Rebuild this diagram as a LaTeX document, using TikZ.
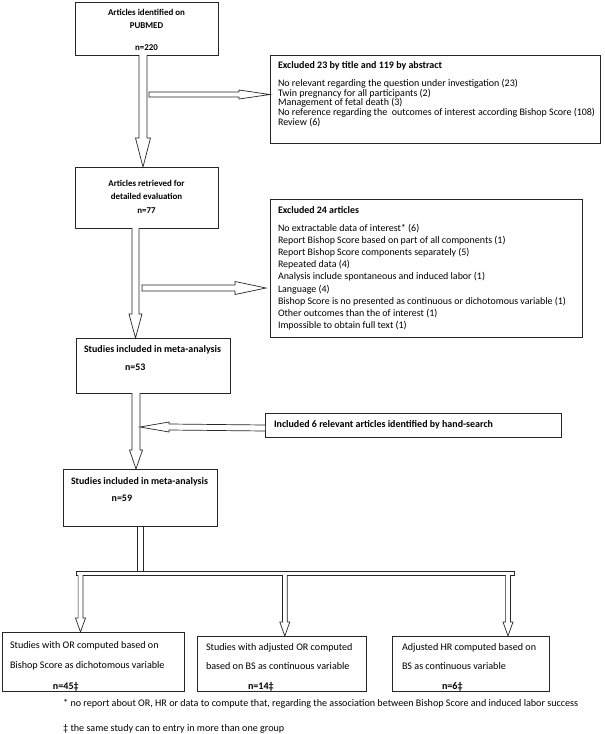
\documentclass[tikz,border=0pt]{standalone}
\usepackage{fontspec}
\setmainfont{Carlito}
\usetikzlibrary{calc}
\tikzset{
  boxs/.style={draw=black!85, line width=0.9pt, inner sep=0pt, outer sep=0pt, anchor=north west, fill=white},
  blockarrow/.style={draw=black!85, line width=0.7pt, fill=white, line join=miter},
  foot/.style={inner sep=0pt, anchor=base west}
}
\newlength\tmpw
\newcommand{\fitsz}[3]{% macro name, target width (pt), sample text
  \settowidth\tmpw{\fontsize{10}{12}\selectfont #3}%
  \pgfmathsetmacro#1{10*#2/\tmpw}}
\newcommand{\bx}[3]{\begin{minipage}[t][#2][t]{#1}\setlength{\parindent}{0pt}\lineskiplimit=-20pt\rightskip=-60pt plus 1fil #3\end{minipage}}
% vertical block arrow: start, tip, shaft half width, head half width, head length
\newcommand{\vblock}[5]{\draw[blockarrow] ($(#1)+(-#3,0)$) -- ($(#2)+(-#3,-#5)$) -- ($(#2)+(-#4,-#5)$) -- (#2) -- ($(#2)+(#4,-#5)$) -- ($(#2)+(#3,-#5)$) -- ($(#1)+(#3,0)$);}
% right-pointing, closed start
\newcommand{\hblockR}[5]{\draw[blockarrow] ($(#1)+(0,-#3)$) -- ($(#2)+(-#5,-#3)$) -- ($(#2)+(-#5,-#4)$) -- (#2) -- ($(#2)+(-#5,#4)$) -- ($(#2)+(-#5,#3)$) -- ($(#1)+(0,#3)$) -- cycle;}
% left-pointing, open start
\newcommand{\hblockL}[5]{\draw[blockarrow] ($(#1)+(0,-#3)$) -- ($(#2)+(#5,-#3)$) -- ($(#2)+(#5,-#4)$) -- (#2) -- ($(#2)+(#5,#4)$) -- ($(#2)+(#5,#3)$) -- ($(#1)+(0,#3)$);}
\begin{document}
\fitsz{\szA}{77}{\bfseries Articles identified on}%
\fitsz{\szCh}{164}{\bfseries Excluded 23 by title and 119 by abstract}%
\fitsz{\szC}{317}{No reference regarding the\ \ outcomes of interest according Bishop Score (108)}%
\fitsz{\szEh}{81}{\bfseries Excluded 24 articles}%
\fitsz{\szE}{288}{Bishop Score is no presented as continuous or dichotomous variable (1)}%
\fitsz{\szD}{137}{\bfseries Studies included in meta-analysis}%
\fitsz{\szG}{219}{\bfseries Included 6 relevant articles identified by hand-search}%
\fitsz{\szO}{148.6}{Studies with OR computed based on}%
\fitsz{\szN}{515}{* no report about OR, HR or data to compute that, regarding the association between Bishop Score and induced labor success}%
\begin{tikzpicture}[x=1pt,y=-1pt]
\useasboundingbox (0,0) rectangle (605,734);
\fill[white] (0,0) rectangle (605,734);

% boxes
\node[boxs] (A) at (75,2) {\bx{143pt}{53pt}{\fontsize{\szA}{13}\selectfont\bfseries\centering\rule{0pt}{13pt}Articles identified on\\PUBMED\\[9pt]n=220\par}};

\node[boxs] (C) at (270,55) {\bx{330pt}{88pt}{\fontsize{\szC}{9.7}\selectfont\leftskip=8pt\rule{0pt}{13.5pt}{\fontsize{\szCh}{9.7}\selectfont\bfseries Excluded 23 by title and 119 by abstract}\\[8.3pt]No relevant regarding the question under investigation (23)\\Twin pregnancy for all participants (2)\\Management of fetal death (3)\\No reference regarding the\ \ outcomes of interest according Bishop Score (108)\\Review (6)\par}};

\node[boxs] (B) at (75,167) {\bx{143pt}{61pt}{\fontsize{\szA}{13}\selectfont\bfseries\centering\rule{0pt}{19pt}Articles retrieved for\\detailed evaluation\\[1pt]n=77\par}};

\node[boxs] (E) at (270,199) {\bx{312pt}{138pt}{\fontsize{\szE}{12.1}\selectfont\leftskip=8pt\rule{0pt}{14.3pt}{\fontsize{\szEh}{12.1}\selectfont\bfseries Excluded 24 articles}\\[6.1pt]No extractable data of interest* (6)\\Report Bishop Score based on part of all components (1)\\Report Bishop Score components separately (5)\\Repeated data (4)\\Analysis include spontaneous and induced labor (1)\\Language (4)\\Bishop Score is no presented as continuous or dichotomous variable (1)\\Other outcomes than the of interest (1)\\Impossible to obtain full text (1)\par}};

\node[boxs] (D) at (76,338) {\bx{154pt}{55pt}{\fontsize{\szD}{18}\selectfont\bfseries\leftskip=8pt\rule{0pt}{14.3pt}Studies included in meta-analysis\\\hspace*{41pt}n=53\par}};

\node[boxs] (G) at (265,413) {\bx{296pt}{24pt}{\fontsize{\szG}{12}\selectfont\bfseries\leftskip=9pt\rule{0pt}{14pt}Included 6 relevant articles identified by hand-search\par}};

\node[boxs] (F) at (63,469) {\bx{154pt}{57pt}{\fontsize{\szD}{17}\selectfont\bfseries\leftskip=8pt\rule{0pt}{15.3pt}Studies included in meta-analysis\\\hspace*{40.7pt}n=59\par}};

\node[boxs, minimum width=438pt, minimum height=4pt, line width=0.7pt] (bar) at (76,571) {};

\node[boxs] (O1) at (2,632) {\bx{182pt}{59pt}{\fontsize{\szO}{20}\selectfont\leftskip=8pt\rule{0pt}{16pt}Studies with OR computed based on\\Bishop Score as dichotomous variable\\[1pt]\hspace*{43pt}\textbf{n=45‡}\par}};

\node[boxs] (O2) at (197,636) {\bx{169pt}{55pt}{\fontsize{\szO}{19}\selectfont\leftskip=9pt\rule{0pt}{14pt}Studies with adjusted OR computed\\based on BS as continuous variable\\[1pt]\hspace*{42pt}\textbf{n=14‡}\par}};

\node[boxs] (O3) at (392,636) {\bx{157pt}{55pt}{\fontsize{\szO}{19}\selectfont\leftskip=10pt\rule{0pt}{14pt}Adjusted HR computed based on\\BS as continuous variable\\[1pt]\hspace*{40pt}\textbf{n=6‡}\par}};

\node[foot, font=\fontsize{\szN}{12}\selectfont] (n1) at (63,706) {* no report about OR, HR or data to compute that, regarding the association between Bishop Score and induced labor success};
\node[foot, font=\fontsize{\szN}{12}\selectfont] (n2) at (63,731) {‡ the same study can to entry in more than one group};

% connectors (block arrows)
\coordinate (ab0) at (143,0 |- A.south);
\coordinate (ab1) at (143,0 |- B.north);
\vblock{ab0}{ab1}{4}{7.5}{29}
\coordinate (ac0) at (149,94.5);
\coordinate (ac1) at (C.west |- 0,94.5);
\hblockR{ac0}{ac1}{2.5}{4.5}{31}

\coordinate (bd0) at (135.5,0 |- B.south);
\coordinate (bd1) at (135.5,0 |- D.north);
\vblock{bd0}{bd1}{3.5}{6.5}{24}
\coordinate (be0) at (142,288);
\coordinate (be1) at ($(E.west |- 0,288)+(-4,0)$);
\hblockR{be0}{be1}{3}{6.5}{31}

\coordinate (df0) at (136,0 |- D.south);
\coordinate (df1) at (136,0 |- F.north);
\vblock{df0}{df1}{4}{6.5}{19}
\coordinate (gd0) at (G.west |- 0,428);
\coordinate (gd1) at (140,427);
\hblockL{gd0}{gd1}{3}{5}{29}

\draw[blockarrow] (137.6,0 |- F.south) -- (137.6,0 |- bar.north);
\draw[blockarrow] (143.7,0 |- F.south) -- (143.7,0 |- bar.north);

\coordinate (o10) at (80.5,0 |- bar.south);
\coordinate (o11) at (80.5,0 |- O1.north);
\vblock{o10}{o11}{2.4}{5}{14}
\coordinate (o20) at (284.8,0 |- bar.south);
\coordinate (o21) at (284.8,0 |- O2.north);
\vblock{o20}{o21}{2.4}{5}{14}
\coordinate (o30) at (508,0 |- bar.south);
\coordinate (o31) at (508,0 |- O3.north);
\vblock{o30}{o31}{2.4}{5}{14}
\end{tikzpicture}
\end{document}
